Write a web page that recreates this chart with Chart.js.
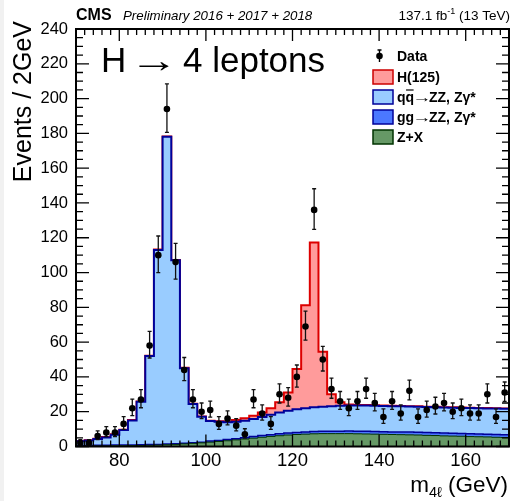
<!DOCTYPE html>
<html>
<head>
<meta charset="utf-8">
<script src="https://cdn.jsdelivr.net/npm/chart.js@4.4.1/dist/chart.umd.min.js"></script>
<style>
  html, body { margin: 0; padding: 0; background: #fff; }
  #wrap { width: 513px; height: 501px; }
</style>
</head>
<body>
<div id="wrap"><canvas id="c" width="513" height="501"></canvas></div>
<script>
// 2 GeV bins, low edges
const binLow = [70, 72, 74, 76, 78, 80, 82, 84, 86, 88,
  90, 92, 94, 96, 98, 100, 102, 104, 106, 108,
  110, 112, 114, 116, 118, 120, 122, 124, 126, 128,
  130, 132, 134, 136, 138, 140, 142, 144, 146, 148,
  150, 152, 154, 156, 158, 160, 162, 164, 166, 168];
const binWidth = 2;

// observed events per bin
const dataCounts = [2, 2, 6, 8, 8, 13, 22, 27, 58, 110,
  194, 106, 44, 27, 20, 21, 13, 16, 12, 7,
  27, 19, 13, 30, 28, 40, 69, 136, 50, 33,
  26, 22, 26, 33, 25, 17, 26, 19, 32, 17,
  21, 23, 25, 20, 22, 19, 19, 30, 17, 31];

// expected contributions per bin (stack order bottom -> top)
const zPlusX = [0.2, 0.2, 0.3, 0.3, 0.4, 0.4, 0.5, 0.6, 0.7, 0.8,
  1.0, 1.2, 1.5, 1.8, 2.1, 2.5, 2.9, 3.3, 3.8, 4.3,
  4.8, 5.3, 5.8, 6.2, 6.6, 6.9, 7.1, 7.3, 7.4, 7.4,
  7.4, 7.4, 7.3, 7.2, 7.1, 7.0, 6.9, 6.8, 6.7, 6.6,
  6.4, 6.3, 6.1, 6.0, 5.9, 5.7, 5.6, 5.5, 5.3, 5.2];
const ggZZ = [0.4, 0.4, 0.4, 0.4, 0.4, 0.4, 0.4, 0.4, 0.4, 0.4,
  0.4, 0.4, 0.4, 0.4, 0.4, 0.6, 0.6, 0.7, 0.7, 0.8,
  0.9, 1.0, 1.0, 1.1, 1.2, 1.2, 1.3, 1.3, 1.4, 1.4,
  1.4, 1.5, 1.5, 1.5, 1.5, 1.5, 1.5, 1.6, 1.6, 1.6,
  1.6, 1.6, 1.6, 1.6, 1.6, 1.6, 1.6, 1.6, 1.6, 1.6];
const qqZZ = [2.4, 2.8, 3.6, 4.5, 6.0, 8.7, 14.1, 24.7, 50.9, 111.8,
  176.6, 105.4, 43.1, 22.2, 14.6, 11.5, 10.7, 10.0, 9.7, 9.7,
  10.1, 10.7, 11.5, 12.2, 12.7, 13.3, 13.6, 13.9, 14.1, 14.4,
  14.6, 14.6, 14.7, 14.8, 14.8, 14.8, 14.8, 14.7, 14.7, 14.7,
  14.7, 14.7, 14.7, 14.7, 14.7, 14.8, 14.8, 14.8, 14.9, 14.9];
const higgs125 = [0.2, 0.2, 0.2, 0.2, 0.2, 0.2, 0.2, 0.2, 0.2, 0.2,
  0.2, 0.2, 0.2, 0.2, 0.2, 0.2, 0.3, 0.4, 1.0, 1.4,
  1.9, 2.6, 3.7, 5.9, 10.6, 23.1, 59.2, 94.8, 31.6, 6.8,
  2.1, 0.7, 0.4, 0.3, 0.3, 0.2, 0.2, 0.2, 0.2, 0.2,
  0.2, 0.2, 0.2, 0.2, 0.2, 0.2, 0.2, 0.2, 0.2, 0.2];

const xTickValues = [80, 100, 120, 140, 160];

const FONT = '"Liberation Sans", Arial, Helvetica, sans-serif';

// running sums for the stack
function cumulate(layers) {
  const out = [];
  let run = binLow.map(() => 0);
  layers.forEach(l => {
    run = run.map((v, i) => v + l[i]);
    out.push(run.slice());
  });
  return out;
}
const [cumZX, cumGG, cumQQ, cumH] = cumulate([zPlusX, ggZZ, qqZZ, higgs125]);

// step points at bin low edges + last upper edge
function stepPoints(vals) {
  const pts = binLow.map((x, i) => ({ x: x, y: vals[i] }));
  pts.push({ x: binLow[binLow.length - 1] + binWidth, y: vals[vals.length - 1] });
  return pts;
}

function histDs(label, vals, fill, edge, width) {
  return {
    label: label,
    data: stepPoints(vals),
    stepped: 'before',
    fill: 'origin',
    backgroundColor: fill,
    borderColor: edge,
    borderWidth: width,
    pointRadius: 0
  };
}

const dataPoints = binLow.map((x, i) => ({ x: x + binWidth / 2, y: dataCounts[i] }));

// Poisson-ish asymmetric errors from the counts
function errUp(n) { return 0.5 + Math.sqrt(n + 0.25); }
function errDown(n) { return Math.sqrt(n + 0.25) - 0.5; }

// draws pieces of text left to right (sx = stretch, dx = shift, adv = advance tweak)
function textRun(c, parts, x, y) {
  parts.forEach(p => {
    const sx = p.sx || 1;
    x += p.dx || 0;
    c.font = p.font;
    c.save();
    c.translate(x, y + (p.dy || 0));
    c.scale(sx, 1);
    c.fillText(p.t, 0, 0);
    c.restore();
    x += c.measureText(p.t).width * sx + (p.adv || 0);
  });
  return x;
}
function runWidth(c, parts) {
  let w = 0;
  parts.forEach(p => {
    c.font = p.font;
    w += c.measureText(p.t).width * (p.sx || 1) + (p.dx || 0) + (p.adv || 0);
  });
  return w;
}

const decor = {
  id: 'decor',
  beforeDraw(chart) {
    const c = chart.ctx;
    c.save();
    c.fillStyle = '#fff';
    c.fillRect(0, 0, chart.width, chart.height);
    c.fillStyle = '#f1f1f1';
    c.fillRect(0, 0, 4, chart.height);
    c.restore();
  },
  beforeDatasetDraw(chart, args) {
    if (args.index !== 0) return;
    const c = chart.ctx, xs = chart.scales.x, ys = chart.scales.y;
    c.save();
    c.strokeStyle = '#111';
    c.lineWidth = 1.3;
    dataPoints.forEach(p => {
      const px = xs.getPixelForValue(p.x);
      const top = ys.getPixelForValue(p.y + errUp(p.y));
      const bot = ys.getPixelForValue(p.y - errDown(p.y));
      c.beginPath();
      c.moveTo(px, top); c.lineTo(px, bot);
      c.moveTo(px - 2, top); c.lineTo(px + 2, top);
      c.moveTo(px - 2, bot); c.lineTo(px + 2, bot);
      c.stroke();
    });
    c.restore();
  },
  afterDraw(chart) {
    const c = chart.ctx, a = chart.chartArea, xs = chart.scales.x, ys = chart.scales.y;
    c.save();
    // frame
    c.strokeStyle = '#000';
    c.lineWidth = 2;
    c.strokeRect(a.left, a.top, a.right - a.left, a.bottom - a.top);
    // inward ticks
    c.lineWidth = 1.3;
    c.beginPath();
    for (let v = 70; v <= 170; v += 2) {
      const px = xs.getPixelForValue(v);
      const len = v % 20 === 0 ? 12 : 6;
      c.moveTo(px, a.bottom); c.lineTo(px, a.bottom - len);
      c.moveTo(px, a.top); c.lineTo(px, a.top + len);
    }
    for (let v = 0; v <= 240; v += 5) {
      const py = ys.getPixelForValue(v);
      const len = v % 20 === 0 ? 13 : 7;
      c.moveTo(a.left, py); c.lineTo(a.left + len, py);
      c.moveTo(a.right, py); c.lineTo(a.right - len, py);
    }
    c.stroke();

    c.fillStyle = '#000';
    c.textBaseline = 'alphabetic';
    c.textAlign = 'left';
    // header
    c.font = 'bold 16px ' + FONT;
    c.fillText('CMS', 76, 20);
    c.font = 'italic 13.3px ' + FONT;
    c.fillText('Preliminary 2016 + 2017 + 2018', 123, 20);
    const lumi = [
      { t: '137.1 fb', font: '13.5px ' + FONT },
      { t: '-1', font: '9px ' + FONT, dy: -6 },
      { t: ' (13 TeV)', font: '13.5px ' + FONT }
    ];
    textRun(c, lumi, 510 - runWidth(c, lumi), 20);

    // process label
    c.font = '35px ' + FONT;
    c.fillText('H', 101, 72);
    textRun(c, [{ t: '\u2192', font: '35px ' + FONT, sx: 1.4 }], 129.5, 72);
    c.font = '35px ' + FONT;
    c.fillText('4 leptons', 183, 72);

    // legend
    const lx = 373, bw = 20, bh = 14, tx = 397;
    c.lineWidth = 1.4;
    c.beginPath();
    c.moveTo(379.5, 50); c.lineTo(379.5, 62);
    c.moveTo(377.5, 50); c.lineTo(381.5, 50);
    c.stroke();
    c.beginPath(); c.arc(379.5, 56, 3.3, 0, Math.PI * 2); c.fill();
    const LF = 'bold 14px ' + FONT;
    c.font = LF;
    c.fillText('Data', tx, 61);
    const rows = [
      ['H(125)', '#ff9b9b', '#cc0000'],
      ['qq', '#99ccff', '#000099'],
      ['gg', '#4b78ff', '#000099'],
      ['Z+X', '#669966', '#003300']
    ];
    rows.forEach((r, i) => {
      const by = 70 + i * 20;
      c.fillStyle = r[1];
      c.fillRect(lx, by, bw, bh);
      c.strokeStyle = r[2];
      c.lineWidth = 1.5;
      c.strokeRect(lx, by, bw, bh);
      c.fillStyle = '#000';
      const ty = by + bh / 2 + 5;
      if (i === 1 || i === 2) {
        c.font = LF;
        const wq = c.measureText('q').width;
        textRun(c, [
          { t: r[0], font: LF },
          { t: '\u2192', font: '14px ' + FONT, sx: 1.35, dx: -1.5, adv: -2.5 },
          { t: 'ZZ, Z\u03b3*', font: LF }
        ], tx, ty);
        if (i === 1) {
          c.strokeStyle = '#000';
          c.lineWidth = 1.2;
          c.beginPath();
          c.moveTo(tx + wq + 0.5, ty - 12); c.lineTo(tx + 2 * wq - 0.5, ty - 12);
          c.stroke();
        }
      } else {
        c.font = LF;
        c.fillText(r[0], tx, ty);
      }
    });

    // axis titles
    const xTitle = [
      { t: 'm', font: '22.5px ' + FONT },
      { t: '4\u2113', font: '14.5px ' + FONT, dy: 5 },
      { t: ' (GeV)', font: '22.5px ' + FONT }
    ];
    textRun(c, xTitle, 508 - runWidth(c, xTitle), 492);

    c.translate(31, 21);
    c.rotate(-Math.PI / 2);
    c.textAlign = 'right';
    c.font = '25px ' + FONT;
    c.fillText('Events / 2GeV', 0, 0);
    c.restore();
  }
};

new Chart(document.getElementById('c').getContext('2d'), {
  type: 'line',
  data: {
    datasets: [
      {
        label: 'Data',
        data: dataPoints,
        showLine: false,
        pointRadius: 3.3,
        pointBackgroundColor: '#000',
        pointBorderWidth: 0,
        pointBorderColor: '#000'
      },
      histDs('Z+X', cumZX, '#669966', '#003300', 1),
      histDs('gg->ZZ', cumGG, '#4b78ff', '#000099', 1.5),
      histDs('qq->ZZ', cumQQ, '#99ccff', '#000099', 2),
      histDs('H(125)', cumH, '#ff9b9b', '#dd0000', 2)
    ]
  },
  options: {
    responsive: false,
    animation: false,
    events: [],
    layout: { padding: { top: 29, right: 3, left: 0, bottom: 0 } },
    plugins: { legend: { display: false }, tooltip: { enabled: false } },
    scales: {
      x: {
        type: 'linear', min: 70, max: 170,
        grid: { display: false, drawTicks: false, tickLength: 0 },
        border: { display: false },
        ticks: { stepSize: 20, color: '#000', padding: 3, maxRotation: 0, autoSkip: false,
          font: { family: FONT, size: 18.5 } },
        afterBuildTicks: s => { s.ticks = xTickValues.map(v => ({ value: v })); },
        afterFit: s => { s.height = 54.5; }
      },
      y: {
        min: 0, max: 240,
        grid: { display: false, drawTicks: false, tickLength: 0 },
        border: { display: false },
        ticks: { stepSize: 20, color: '#000', padding: 8,
          font: { family: FONT, size: 16.5 } },
        afterFit: s => { s.width = 76; }
      }
    }
  },
  plugins: [decor]
});
</script>
</body>
</html>
